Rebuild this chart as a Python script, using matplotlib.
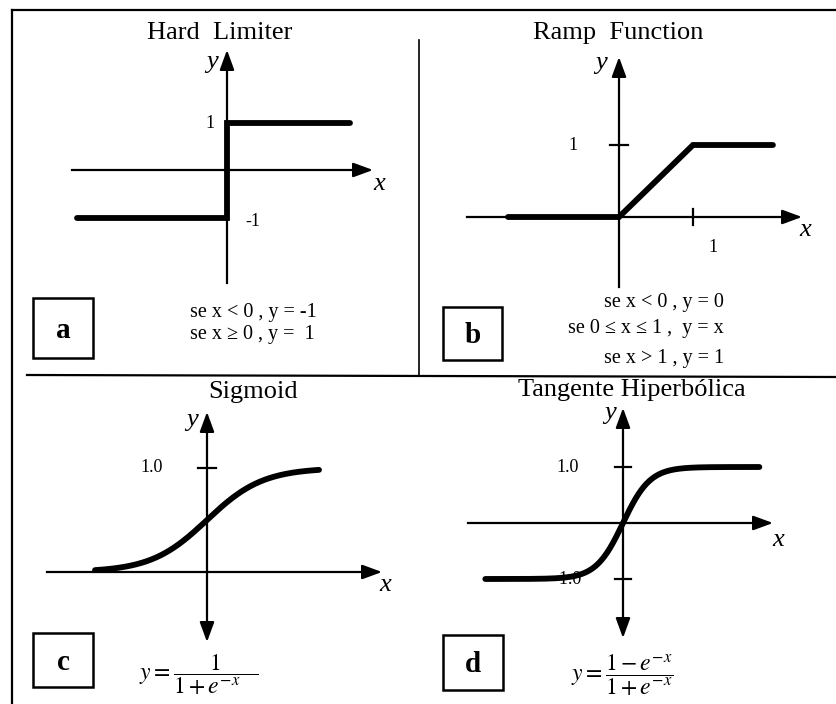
import numpy as np
import matplotlib.pyplot as plt
from matplotlib.patches import Rectangle

plt.rcParams['font.family'] = ['Liberation Serif', 'DejaVu Serif']
plt.rcParams['mathtext.fontset'] = 'stix'

W, H = 837, 704

# hard limiter and ramp breakpoints
hard_x = [-3.0, 0.0, 0.0, 2.45]
hard_y = [-1.0, -1.0, 1.0, 1.0]
ramp_x = [-1.5, 0.0, 1.0, 2.08]
ramp_y = [0.0, 0.0, 1.0, 1.0]

# sample points for the smooth functions
sig_x = np.linspace(-4.0, 4.0, 200)
tanh_x = np.linspace(-10.2, 10.1, 300)
sig_y = 1.0 / (1.0 + np.exp(-sig_x))
tanh_y = (1.0 - np.exp(-tanh_x)) / (1.0 + np.exp(-tanh_x))

fig = plt.figure(figsize=(W / 100, H / 100), dpi=100)

# page frame, dividers, labels (pixel coordinates)
base = fig.add_axes([0, 0, 1, 1])
base.set_xlim(0, W)
base.set_ylim(H, 0)
base.axis('off')


def panel(ox, oy, sx, sy):
    ax = fig.add_axes([0, 0, 1, 1])
    ax.set_xlim(-ox / sx, (W - ox) / sx)
    ax.set_ylim(-(H - oy) / sy, oy / sy)
    ax.axis('off')
    ax.patch.set_alpha(0)
    return ax


def arrow(ax, x0, y0, x1, y1):
    ax.annotate('', xy=(x1, y1), xytext=(x0, y0),
                arrowprops=dict(arrowstyle='-|>,head_length=0.6,head_width=0.22',
                                lw=1.6, color='k', shrinkA=0, shrinkB=0,
                                mutation_scale=20))


lk = dict(color='k', lw=1.6)
curve = dict(color='k', lw=4.2, solid_capstyle='round', solid_joinstyle='miter')

base.plot([12, 12], [10, H], **lk)
base.plot([12, W], [10, 10], **lk)
base.plot([419, 419], [40, 375], color='k', lw=1.2)
base.plot([27, W], [375, 377], **lk)

boxes = {'a': (33, 298, 60, 60), 'b': (443, 307, 59, 53),
         'c': (33, 633, 60, 54), 'd': (443, 635, 60, 55)}
for lab, (bx, by, bw, bh) in boxes.items():
    base.add_patch(Rectangle((bx, by), bw, bh, fill=False, ec='k', lw=1.8))
    base.text(bx + bw / 2, by + bh / 2 + 2, lab, fontsize=21, fontweight='bold',
              ha='center', va='center')

tt = dict(fontsize=19, ha='center', va='center')
base.text(220, 33, 'Hard  Limiter', **tt)
base.text(618, 33, 'Ramp  Function', **tt)
base.text(253, 392, 'Sigmoid', **tt)
base.text(632, 390, 'Tangente Hiperbólica', **tt)

it = dict(fontsize=19, style='italic', ha='center', va='center')
for px, py, s in [(212, 62, 'y'), (379, 184, 'x'), (601, 63, 'y'), (805, 230, 'x'),
                  (192, 420, 'y'), (385, 585, 'x'), (610, 413, 'y'), (778, 540, 'x')]:
    base.text(px, py, s, **it)

nt = dict(fontsize=13, ha='center', va='center')
base.text(210, 123, '1', **nt)
base.text(253, 222, '-1', **nt)
base.text(573, 145, '1', **nt)
base.text(713, 247, '1', **nt)
base.text(152, 468, '1.0', **nt)
base.text(568, 467, '1.0', **nt)
base.text(568, 580, '-1.0', **nt)

ct = dict(fontsize=14.5, va='center')
base.text(190, 313, 'se x < 0 , y = -1', ha='left', **ct)
base.text(190, 334, 'se x ≥ 0 , y =  1', ha='left', **ct)
base.text(724, 302, 'se x < 0 , y = 0', ha='right', **ct)
base.text(724, 329, 'se 0 ≤ x ≤ 1 ,  y = x', ha='right', **ct)
base.text(724, 359, 'se x > 1 , y = 1', ha='right', **ct)

base.text(199, 675, r'$y=\dfrac{1}{1+e^{-x}\quad}$', fontsize=17, ha='center', va='center')
base.text(622, 675, r'$y=\dfrac{1-e^{-x}}{1+e^{-x}}$', fontsize=17, ha='center', va='center')

# a: hard limiter
ax = panel(227, 170, 50.0, 47.5)
ax.plot([-3.1, 0], [0, 0], **lk)
arrow(ax, 0, 0, 146 / 50.0, 0)
ax.plot([0, 0], [-113 / 47.5, 0], **lk)
arrow(ax, 0, 0, 0, 120 / 47.5)
ax.plot(hard_x, hard_y, **curve)

# b: ramp
ax = panel(619, 217, 74.0, 72.0)
ax.plot([-152 / 74.0, 0], [0, 0], **lk)
arrow(ax, 0, 0, 183 / 74.0, 0)
ax.plot([0, 0], [-70 / 72.0, 0], **lk)
arrow(ax, 0, 0, 0, 160 / 72.0)
ax.plot([-9 / 74.0, 9 / 74.0], [1, 1], **lk)
ax.plot([1, 1], [-8 / 72.0, 8 / 72.0], **lk)
ax.plot(ramp_x, ramp_y, **curve)

# c: sigmoid
ax = panel(207, 572, 28.0, 104.0)
ax.plot([-160 / 28.0, 0], [0, 0], **lk)
arrow(ax, 0, 0, 175 / 28.0, 0)
arrow(ax, 0, 0, 0, 160 / 104.0)
arrow(ax, 0, 0, 0, -70 / 104.0)
ax.plot([-9 / 28.0, 9 / 28.0], [1, 1], **lk)
ax.plot(sig_x, sig_y, **curve)

# d: hyperbolic tangent
ax = panel(623, 523, 13.5, 56.0)
ax.plot([-155 / 13.5, 0], [0, 0], **lk)
arrow(ax, 0, 0, 150 / 13.5, 0)
arrow(ax, 0, 0, 0, 115 / 56.0)
arrow(ax, 0, 0, 0, -115 / 56.0)
ax.plot([-8 / 13.5, 8 / 13.5], [1, 1], **lk)
ax.plot([-8 / 13.5, 8 / 13.5], [-1, -1], **lk)
ax.plot(tanh_x, tanh_y, **curve)

fig.savefig('out.png', dpi=100)
